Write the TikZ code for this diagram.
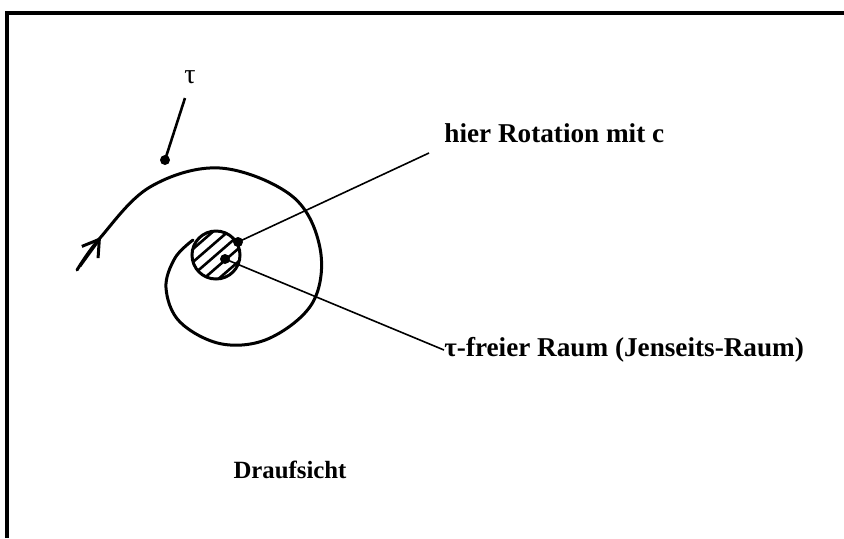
\documentclass[tikz,border=0pt]{standalone}
\usepackage{fontspec}
\setmainfont{Liberation Serif}
\usetikzlibrary{arrows.meta}

\tikzset{
  label text/.style={font=\fontsize{13.6}{16}\selectfont\bfseries, inner sep=0pt},
  leader/.style={line width=0.8pt},
  spiral line/.style={line width=1.5pt, line cap=round, line join=round}
}

\begin{document}
\begin{tikzpicture}[x=0.5pt,y=-0.5pt]
\useasboundingbox (0,0) rectangle (844,538);

% Frame
\draw[line width=2pt] (7,538) -- (7,13) -- (844,13);

% Points
\coordinate (tip) at (165,160);
\coordinate (rot) at (238,242);
\coordinate (free) at (225,259);
\coordinate (rotend) at (429,153);

% Hatched hole
\begin{scope}
  \clip (216,255) circle (24);
  \foreach \k in {-2,...,2}
    \draw[line width=1.3pt] (186,281+13*\k) -- (246,229+13*\k);
\end{scope}
\draw[line width=1.5pt] (216,255) circle (24);

% Spiral
\draw[spiral line] plot[smooth, tension=0.6] coordinates {
  (77,270) (100,238) (150,187) (220,168) (292,196) (320,248)
  (313,302) (270,338) (222,344) (180,322) (166,288) (175,258) (193,240)};
\draw[spiral line, -{Straight Barb[length=8pt,width=10pt]}] (80,266) -- (101,237);

\fill (tip) circle (2.5pt);
\fill (rot) circle (2.5pt);
\fill (free) circle (2.5pt);

% Labels
\node (taulbl) at (190,77) {\fontsize{14}{16}\selectfont τ};
\node[label text, anchor=west] (rotlbl) at (444,133) {hier Rotation mit c};
\node[label text, anchor=west] (freelbl) at (444,350) {τ-freier Raum (Jenseits-Raum)};
\node[label text, font=\fontsize{12.4}{15}\selectfont\bfseries] (topview) at (290,470) {Draufsicht};

% Leaders
\draw[line width=1.3pt] (185,98) -- (tip);
\draw[leader] (rot) -- (rotend);
\draw[leader] (free) -- (freelbl.west);

\end{tikzpicture}
\end{document}
